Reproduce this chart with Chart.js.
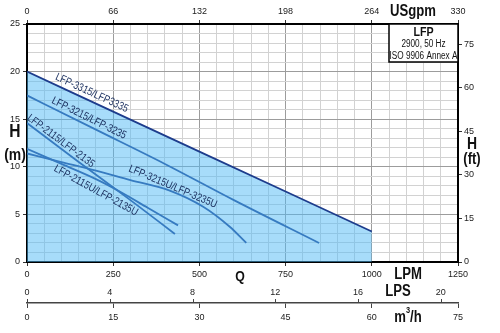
<!DOCTYPE html>
<html>
<head>
<meta charset="utf-8">
<script src="https://cdn.jsdelivr.net/npm/chart.js@4/dist/chart.umd.min.js"></script>
<style>
  body { margin: 0; background: #fff; }
  #wrap { width: 500px; height: 333px; position: relative; }
</style>
</head>
<body>
<div id="wrap"><canvas id="pump-chart"></canvas></div>
<script>
// pump curves, Q in LPM, H in m
const lpm3315 = [0, 250, 500, 750, 1000];
const head3315 = [20.0, 15.8, 11.6, 7.4, 3.2];
const lpm3215 = [0, 200, 400, 600, 847];
const head3215 = [17.5, 13.9, 10.3, 6.5, 2.0];
const lpm3215U = [0, 100, 200, 300, 414, 511, 588, 636];
const head3215U = [11.4, 10.5, 9.6, 8.6, 7.5, 5.8, 3.7, 2.0];
const lpm2115 = [0, 150, 300, 429];
const head2115 = [14.6, 10.5, 6.5, 2.95];
const lpm2115U = [0, 100, 200, 269, 350, 438];
const head2115U = [11.9, 10.3, 8.7, 7.4, 5.7, 3.85];

// tick labels
const lpmTicks = [0, 250, 500, 750, 1000, 1250];
const usgpmTicks = [0, 66, 132, 198, 264, 330];
const lpsTicks = [0, 4, 8, 12, 16, 20];
const m3hTicks = [0, 15, 30, 45, 60, 75];
const headTicks = [0, 5, 10, 15, 20, 25];
const ftTicks = [0, 15, 30, 45, 60, 75];

const FONT = "'Liberation Sans', Arial, sans-serif";
const lineBlue = '#1d3c8c';
const SQUEEZE = 0.82;

function pts(xs, ys) {
  return xs.map((x, i) => ({ x: x, y: ys[i] }));
}
function fixTicks(arr) {
  return function (scale) { scale.ticks = arr.map(v => ({ value: v })); };
}
// condensed text, like the narrow face used on the original sheet
function narrow(c, txt, x, y, font) {
  c.save();
  c.font = font;
  c.translate(x, y);
  c.scale(SQUEEZE, 1);
  c.fillText(txt, 0, 0);
  c.restore();
}

const curveLabels = [
  { text: 'LFP-3315/LFP3335', q: 188, h: 17.75, deg: 24.8 },
  { text: 'LFP-3215/LFP-3235', q: 180, h: 15.1, deg: 26.3 },
  { text: 'LFP-2115/LFP-2135', q: 98, h: 12.7, deg: 36.8 },
  { text: 'LFP-2115U/LFP-2135U', q: 200, h: 7.5, deg: 28.8 },
  { text: 'LFP-3215U/LFP-3235U', q: 423, h: 7.9, deg: 22.9 }
];

const extras = {
  id: 'extras',
  afterDraw(chart) {
    const c = chart.ctx;
    const a = chart.chartArea;
    const sx = chart.scales.x, sy = chart.scales.y;
    const lps = chart.scales.lps, m3h = chart.scales.m3h;
    c.save();

    // small upward ticks for the LPS scale
    c.strokeStyle = '#444';
    c.lineWidth = 1;
    lpsTicks.forEach(v => {
      const px = Math.round(lps.getPixelForValue(v)) + 0.5;
      c.beginPath();
      c.moveTo(px, m3h.top - 4);
      c.lineTo(px, m3h.top);
      c.stroke();
    });

    // axis titles
    c.fillStyle = '#111';
    c.textAlign = 'center';
    c.textBaseline = 'middle';
    narrow(c, 'USgpm', 413, 12, 'bold 16px ' + FONT);
    narrow(c, 'LPM', 408, 275, 'bold 16px ' + FONT);
    narrow(c, 'LPS', 398, 292, 'bold 16px ' + FONT);
    narrow(c, 'Q', 240, 277, 'bold 15px ' + FONT);
    // m3/h with superscript
    c.textAlign = 'left';
    c.font = 'bold 16px ' + FONT;
    const wm = c.measureText('m').width * SQUEEZE;
    const wh = c.measureText('/h').width * SQUEEZE;
    c.font = 'bold 9px ' + FONT;
    const w3 = c.measureText('3').width * SQUEEZE;
    let x0 = 408 - (wm + w3 + wh) / 2;
    narrow(c, 'm', x0, 318, 'bold 16px ' + FONT);
    narrow(c, '3', x0 + wm, 311, 'bold 9px ' + FONT);
    narrow(c, '/h', x0 + wm + w3, 318, 'bold 16px ' + FONT);
    c.textAlign = 'center';
    narrow(c, 'H', 15, 132, 'bold 19px ' + FONT);
    narrow(c, '(m)', 15, 155, 'bold 17px ' + FONT);
    narrow(c, 'H', 472, 144, 'bold 17px ' + FONT);
    narrow(c, '(ft)', 472, 160, 'bold 16px ' + FONT);

    // info box
    const bx = a.right - 69, by = a.top, bw = 69, bh = 38;
    c.fillStyle = '#fff';
    c.fillRect(bx, by, bw, bh);
    c.strokeStyle = '#000';
    c.lineWidth = 1.5;
    c.strokeRect(bx, by, bw, bh);
    c.fillStyle = '#111';
    narrow(c, 'LFP', bx + bw / 2, by + 8, 'bold 13px ' + FONT);
    narrow(c, '2900, 50 Hz', bx + bw / 2, by + 20, '10px ' + FONT);
    narrow(c, 'ISO 9906 Annex A', bx + bw / 2, by + 32, '10px ' + FONT);

    // curve names
    c.fillStyle = '#1a2f5e';
    curveLabels.forEach(l => {
      c.save();
      c.translate(sx.getPixelForValue(l.q), sy.getPixelForValue(l.h));
      c.rotate(l.deg * Math.PI / 180);
      narrow(c, l.text, 0, 0, '11px ' + FONT);
      c.restore();
    });
    c.restore();
  }
};

function lineSet(xs, ys, extra) {
  return Object.assign({
    data: pts(xs, ys),
    borderColor: lineBlue,
    borderWidth: 1.8,
    pointRadius: 0,
    fill: false,
    cubicInterpolationMode: 'monotone'
  }, extra || {});
}

const tickFont = { family: FONT, size: 9 };

new Chart(document.getElementById('pump-chart'), {
  type: 'line',
  data: {
    datasets: [
      lineSet(lpm3315, head3315, { fill: 'origin', backgroundColor: 'rgba(80,185,245,0.5)' }),
      lineSet(lpm3215, head3215),
      lineSet(lpm3215U, head3215U),
      lineSet(lpm2115, head2115),
      lineSet(lpm2115U, head2115U)
    ]
  },
  options: {
    responsive: true,
    maintainAspectRatio: false,
    animation: false,
    layout: { padding: 0 },
    plugins: { legend: { display: false }, tooltip: { enabled: false } },
    scales: {
      x: {
        type: 'linear', position: 'bottom', min: 0, max: 1250, weight: 0,
        afterFit: s => { s.height = 20; },
        ticks: {
          stepSize: 50, autoSkip: false, maxRotation: 0, padding: 3,
          color: '#222', font: tickFont,
          callback: v => lpmTicks.includes(v) ? v : ''
        },
        grid: {
          tickLength: 4,
          color: ctx => lpmTicks.includes(ctx.tick.value) ? '#9c9c9c' : '#d2d2d2',
          tickColor: ctx => lpmTicks.includes(ctx.tick.value) ? '#333' : 'rgba(0,0,0,0)'
        },
        border: { color: '#000', width: 2 }
      },
      lps: {
        type: 'linear', position: 'bottom', min: 0, max: 1250 / 60, weight: 1,
        afterFit: s => { s.height = 21; },
        afterBuildTicks: fixTicks(lpsTicks),
        ticks: { padding: 5, maxRotation: 0, autoSkip: false, color: '#222', font: tickFont },
        grid: { display: false, drawTicks: false },
        border: { display: false }
      },
      m3h: {
        type: 'linear', position: 'bottom', min: 0, max: 75, weight: 2,
        afterFit: s => { s.height = 30; },
        afterBuildTicks: fixTicks(m3hTicks),
        ticks: { padding: 4, maxRotation: 0, autoSkip: false, color: '#222', font: tickFont },
        grid: { drawOnChartArea: false, tickLength: 5, tickColor: '#444' },
        border: { color: '#444', width: 1.5 }
      },
      top: {
        type: 'linear', position: 'top', min: 0, max: 330,
        afterFit: s => { s.height = 24; },
        afterBuildTicks: fixTicks(usgpmTicks),
        ticks: { padding: 3, maxRotation: 0, autoSkip: false, color: '#222', font: tickFont },
        grid: { drawOnChartArea: false, tickLength: 4, tickColor: '#333' },
        border: { color: '#000', width: 2 }
      },
      y: {
        type: 'linear', position: 'left', min: 0, max: 25,
        afterFit: s => { s.width = 27; },
        ticks: {
          stepSize: 1, autoSkip: false, padding: 3, color: '#222', font: tickFont,
          callback: v => headTicks.includes(v) ? v : ''
        },
        grid: {
          tickLength: 4,
          color: ctx => headTicks.includes(ctx.tick.value) ? '#9c9c9c' : '#d2d2d2',
          tickColor: ctx => headTicks.includes(ctx.tick.value) ? '#333' : 'rgba(0,0,0,0)'
        },
        border: { color: '#000', width: 2 }
      },
      ft: {
        type: 'linear', position: 'right', min: 0, max: 25 / 0.3048,
        afterFit: s => { s.width = 42; },
        afterBuildTicks: fixTicks(ftTicks),
        ticks: { padding: 2, autoSkip: false, color: '#222', font: tickFont },
        grid: { drawOnChartArea: false, tickLength: 4, tickColor: '#333' },
        border: { color: '#000', width: 2 }
      }
    }
  },
  plugins: [extras]
});
</script>
</body>
</html>
